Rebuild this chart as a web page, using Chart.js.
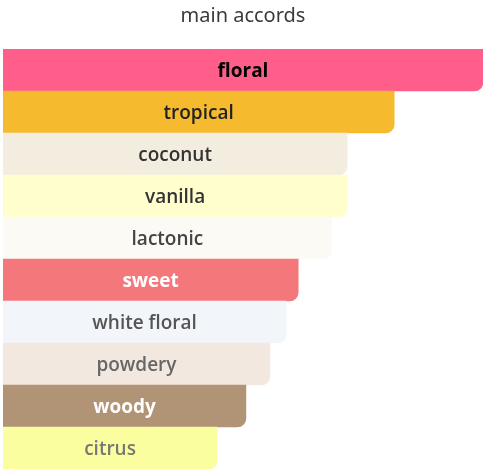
<!DOCTYPE html>
<html>
<head>
<meta charset="utf-8">
<script src="https://cdn.jsdelivr.net/npm/chart.js@4"></script>
<style>
  html, body { margin: 0; padding: 0; background: #fff; }
  #wrap { width: 487px; height: 472px; }
</style>
</head>
<body>
<div id="wrap"><canvas id="accordsChart"></canvas></div>
<script>
const accords = ["floral", "tropical", "coconut", "vanilla", "lactonic", "sweet", "white floral", "powdery", "woody", "citrus"];
const strength = [100, 81.5, 71.7, 71.7, 68.5, 61.5, 59, 55.6, 50.6, 44.6];
const barColors = ["#FF5E8A", "#F6BA2F", "#F3EDDF", "#FFFECC", "#FBFAF4", "#F4787B", "#F2F5FA", "#F3E8E0", "#B19375", "#FBFE9F"];
const labelColors = ["#000000", "#222222", "#333333", "#333333", "#444444", "#FFFFFF", "#555555", "#666666", "#FFFFFF", "#777777"];
const labelWeights = ["bold", "600", "600", "600", "600", "bold", "600", "600", "bold", "600"];

const barLabels = {
  id: "barLabels",
  afterDatasetsDraw(chart) {
    const ctx = chart.ctx;
    const meta = chart.getDatasetMeta(0);
    ctx.save();
    ctx.textAlign = "center";
    ctx.textBaseline = "middle";
    meta.data.forEach(function (bar, i) {
      ctx.font = labelWeights[i] + " 19px 'Open Sans', sans-serif";
      ctx.fillStyle = labelColors[i];
      ctx.fillText(accords[i], (bar.base + bar.x) / 2, bar.y + 2);
    });
    ctx.restore();
  },
};

const ctx = document.getElementById("accordsChart").getContext("2d");
const chart = new Chart(ctx, {
  type: "bar",
  data: {
    labels: accords,
    datasets: [
      {
        label: "main accords",
        data: strength,
        backgroundColor: barColors,
        borderRadius: { topRight: 0, bottomRight: 9, topLeft: 0, bottomLeft: 0 },
        borderSkipped: false,
        categoryPercentage: 1,
        barPercentage: 1,
      },
    ],
  },
  options: {
    indexAxis: "y",
    responsive: true,
    maintainAspectRatio: false,
    animation: false,
    layout: { padding: { left: 3, right: 4, top: 0, bottom: 3 } },
    scales: {
      x: { display: false, min: 0, max: 100 },
      y: { display: false },
    },
    plugins: {
      legend: { display: false },
      tooltip: { enabled: false },
      title: {
        display: true,
        text: "main accords",
        color: "#3a3a3a",
        font: { family: "'Noto Sans', sans-serif", size: 20, weight: "normal" },
        padding: { top: 4, bottom: 21 },
      },
    },
  },
  plugins: [barLabels],
});
</script>
</body>
</html>
